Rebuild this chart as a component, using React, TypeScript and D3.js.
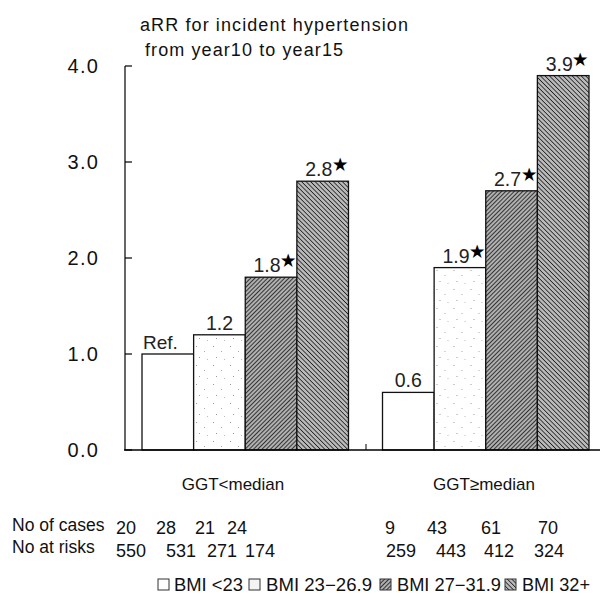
import React from "react";
import * as d3 from "d3";

const groups = ["GGT<median", "GGT\u2265median"];
const series = ["BMI <23", "BMI 23-26.9", "BMI 27-31.9", "BMI 32+"];
const valuesLow = [1.0, 1.2, 1.8, 2.8];
const valuesHigh = [0.6, 1.9, 2.7, 3.9];
const labelsLow = ["Ref.", "1.2", "1.8", "2.8"];
const labelsHigh = ["0.6", "1.9", "2.7", "3.9"];
const starLow = [false, false, true, true];
const starHigh = [false, true, true, true];
const casesLow = ["20", "28", "21", "24"];
const casesHigh = ["9", "43", "61", "70"];
const risksLow = ["550", "531", "271", "174"];
const risksHigh = ["259", "443", "412", "324"];
const yTicks = [0, 1, 2, 3, 4];

const FONT = "'Liberation Sans', Arial, sans-serif";

export default function App() {
  const W = 600, H = 598;
  const y = d3.scaleLinear().domain([0, 4]).range([450, 66]);
  const x0 = d3.scaleBand<string>().domain(groups).range([142, 589]).paddingInner(0.1414).paddingOuter(0);
  const x1 = d3.scaleBand<string>().domain(series).range([0, x0.bandwidth()]).padding(0);
  const fills = ["#ffffff", "url(#dots)", "url(#hatchA)", "url(#hatchB)"];
  const data = [
    { g: groups[0], vals: valuesLow, labels: labelsLow, stars: starLow },
    { g: groups[1], vals: valuesHigh, labels: labelsHigh, stars: starHigh },
  ];
  const casesX = [126, 166, 205, 237, 390, 437, 491, 548];
  const risksX = [131, 181, 222, 260, 401, 451, 499, 549];
  const cases = [...casesLow, ...casesHigh];
  const risks = [...risksLow, ...risksHigh];
  const legendItems = [
    { sx: 158, tx: 174, len: 69 },
    { sx: 249, tx: 266, len: 106 },
    { sx: 380, tx: 397, len: 104 },
    { sx: 505, tx: 522, len: 68 },
  ];
  return (
    <svg width={W} height={H} style={{ position: "absolute", left: 0, top: 0, background: "#fff" }} fontFamily={FONT}>
      <defs>
        <pattern id="dots" patternUnits="userSpaceOnUse" width="17" height="19">
          <rect width="17" height="19" fill="#fff" />
          <rect x="3" y="4" width="1" height="1" fill="#999" />
          <rect x="11" y="9" width="1" height="1" fill="#aaa" />
          <rect x="6" y="15" width="1" height="1" fill="#999" />
          <rect x="14" y="17" width="1" height="1" fill="#bbb" />
        </pattern>
        <pattern id="hatchA" patternUnits="userSpaceOnUse" width="3" height="3" patternTransform="rotate(45)">
          <rect width="3" height="3" fill="#b0b0b0" />
          <line x1="0" y1="0" x2="0" y2="3" stroke="#151515" strokeWidth="1.6" />
        </pattern>
        <pattern id="hatchB" patternUnits="userSpaceOnUse" width="3.2" height="3.2" patternTransform="rotate(-45)">
          <rect width="3.2" height="3.2" fill="#bababa" />
          <line x1="0" y1="0" x2="0" y2="3.2" stroke="#151515" strokeWidth="1.5" />
        </pattern>
      </defs>

      {/* title */}
      <text x={140} y={31} fontSize={18} fill="#111" textLength={268} lengthAdjust="spacing">aRR for incident hypertension</text>
      <text x={145} y={56} fontSize={18} fill="#111" textLength={198} lengthAdjust="spacing">from year10 to year15</text>

      {/* y axis */}
      <line x1={125} x2={125} y1={y(4)} y2={y(0)} stroke="#000" strokeWidth={1.2} />
      {yTicks.map((t) => (
        <g key={t}>
          <line x1={125} x2={132} y1={y(t)} y2={y(t)} stroke="#000" strokeWidth={1.2} />
          <text x={99} y={y(t)} dy="0.36em" textAnchor="end" fontSize={20} letterSpacing={1.2} fill="#111">{t.toFixed(1)}</text>
        </g>
      ))}

      {/* bars */}
      {data.map((d) => (
        <g key={d.g} transform={`translate(${x0(d.g)},0)`}>
          {d.vals.map((v, i) => {
            const bx = x1(series[i])!;
            const bw = x1.bandwidth();
            const top = y(v);
            const cx = bx + bw / 2;
            const isRef = d.labels[i] === "Ref.";
            return (
              <g key={i}>
                <rect x={bx} y={top} width={bw} height={y(0) - top} fill={fills[i]} stroke="#111" strokeWidth={1.3} />
                {isRef ? (
                  <text x={bx + 1} y={top - 5} fontSize={19} fill="#222">{d.labels[i]}</text>
                ) : (
                  <text x={d.stars[i] ? cx - 4 : cx} y={top - 5} textAnchor="middle" fontSize={19.5} fill="#222">{d.labels[i]}</text>
                )}
                {d.stars[i] && (
                  <text x={cx + 10} y={top - 11} fontSize={16} fontWeight="bold" fill="#000">★</text>
                )}
              </g>
            );
          })}
        </g>
      ))}

      {/* x axis baseline */}
      <line x1={124} x2={600} y1={y(0)} y2={y(0)} stroke="#000" strokeWidth={1.3} />
      <line x1={366} x2={366} y1={y(0) - 6} y2={y(0)} stroke="#000" strokeWidth={1} />

      {/* group labels */}
      <text x={233} y={490} textAnchor="middle" fontSize={17} fill="#111">GGT&lt;median</text>
      <text x={484} y={490} textAnchor="middle" fontSize={17} fill="#111">{"GGT\u2265median"}</text>

      {/* table rows */}
      <text x={12} y={531} fontSize={17.5} fill="#111">No of cases</text>
      <text x={12} y={553} fontSize={17.5} fill="#111">No at risks</text>
      {cases.map((c, i) => (
        <text key={"c" + i} x={casesX[i]} y={534} textAnchor="middle" fontSize={18} fill="#111">{c}</text>
      ))}
      {risks.map((r, i) => (
        <text key={"r" + i} x={risksX[i]} y={557} textAnchor="middle" fontSize={18} fill="#111">{r}</text>
      ))}

      {/* legend */}
      {series.map((s, i) => (
        <g key={s}>
          <rect x={legendItems[i].sx} y={579} width={11} height={11} fill={i === 1 ? "#f4f4f4" : fills[i]} stroke="#333" strokeWidth={1} />
          <text x={legendItems[i].tx} y={591} fontSize={17.5} fill="#111" textLength={legendItems[i].len} lengthAdjust="spacingAndGlyphs">{s.replace("-", "\u2212")}</text>
        </g>
      ))}
    </svg>
  );
}
